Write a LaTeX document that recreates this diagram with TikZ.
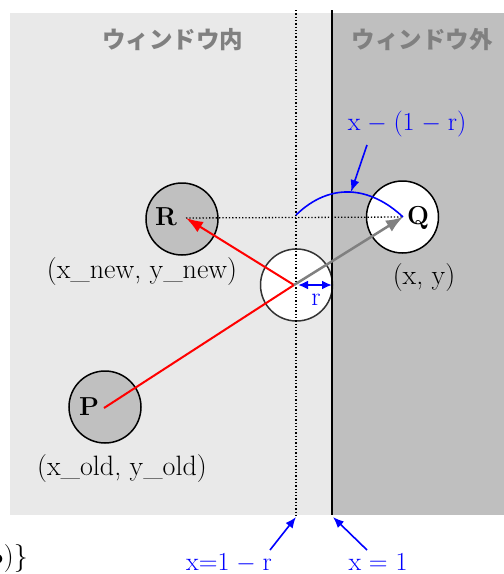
\documentclass[tikz,border=0pt]{standalone}
\usepackage{fontspec}
\newfontfamily\cjk{Noto Sans CJK JP}
\usetikzlibrary{arrows.meta}
\definecolor{lightbg}{HTML}{E9E9E9}
\definecolor{darkbg}{HTML}{BFBFBF}
\definecolor{ballgray}{HTML}{C0C0C0}
\definecolor{labelgray}{HTML}{808080}
\definecolor{myblue}{HTML}{0000FF}
\begin{document}
\begin{tikzpicture}[x=1pt,y=-1pt,
  ball/.style={circle,draw=black,line width=1.5pt,minimum size=72pt,inner sep=0pt},
  letter/.style={font=\fontsize{26}{28}\selectfont\bfseries,inner sep=0pt},
  coordtxt/.style={font=\fontsize{28}{32}\selectfont,inner sep=0pt},
  bluetxt/.style={font=\fontsize{26}{29}\selectfont,text=myblue,inner sep=0pt},
  regiontxt/.style={font=\cjk\bfseries\fontsize{23.5}{26}\selectfont,text=labelgray,inner sep=0pt},
  bluearrow/.style={draw=myblue,line width=1.6pt,-{Latex[length=12pt,width=9pt]}},
]
\useasboundingbox (0,0) rectangle (504,574);
% regions
\fill[lightbg] (10,13) rectangle (332,515);
\fill[darkbg] (332,13) rectangle (504,515);
\node[regiontxt] (inside) at (173,40) {ウィンドウ内};
\node[regiontxt] (outside) at (422,40) {ウィンドウ外};
% balls
\node[ball,fill=ballgray] (R) at (182,219) {};
\node[ball,fill=white] (Q) at (402.5,217) {};
\node[ball,fill=ballgray] (P) at (105,407) {};
\node[ball,fill=white,draw=black!80] (M) at (296.5,285) {};
\node[letter] (Rt) at (166,217) {R};
\node[letter] (Qt) at (418,218) {Q};
\node[letter] (Pt) at (89,407) {P};
% window lines
\coordinate (dtop) at (296,10);
\coordinate (dbot) at (296,515);
\coordinate (stop) at (332,10);
\coordinate (sbot) at (332,515);
\draw[dotted,line width=1.3pt] (dtop) -- (dbot);
\draw[line width=1.8pt] (stop) -- (sbot);
% key points
\coordinate (mc) at (294,285);
\coordinate (rc) at (186,218);
\coordinate (qc) at (403,217);
\coordinate (pc) at (104,408);
\coordinate (cross) at (296,215);
\coordinate (rr) at (332,285);
\draw[dotted,line width=1.3pt] (rc) -- (qc);
% movement arrows
\draw[red,line width=2pt] (pc) -- (mc);
\draw[red,line width=2pt,-{Latex[length=17pt,width=12pt]}] (mc) -- (rc);
\draw[gray,line width=2.5pt,-{Latex[length=17pt,width=13pt]}] (mc) -- (qc);
% r
\draw[myblue,line width=2pt,{Latex[length=10pt,width=9pt]}-{Latex[length=10pt,width=9pt]}] (298,285) -- (rr);
\node[bluetxt] (rlab) at (316,300) {r};
% overshoot curve
\draw[myblue,line width=1.6pt] (cross) .. controls (330,182) and (370,186) .. (qc);
\node[bluetxt] (over) at (407,124) {x$\;-\;$(1$\;-\;$r)};
\coordinate (apex) at (351,192);
\draw[bluearrow] (367,145) -- (apex);
% coordinate labels
\node[coordtxt] (newlab) at (142,272) {(x\_new, y\_new)};
\node[coordtxt] (qlab) at (424,278) {(x, y)};
\node[coordtxt] (oldlab) at (122,469) {(x\_old, y\_old)};
% bottom labels
\node[bluetxt,anchor=base] (l1) at (229,570) {x=1$\;-\;$r};
\node[bluetxt,anchor=base] (l2) at (378,570) {x = 1};
\draw[myblue,line width=1.6pt,-{Latex[length=11pt,width=9pt]}] (270,550) -- (296,517);
\draw[myblue,line width=1.6pt,-{Latex[length=11pt,width=9pt]}] (367,550) -- (333,517);
% clipped fragment
\node[coordtxt,anchor=east] (frag) at (28,558) {$\bullet$)\}};
\end{tikzpicture}
\end{document}
